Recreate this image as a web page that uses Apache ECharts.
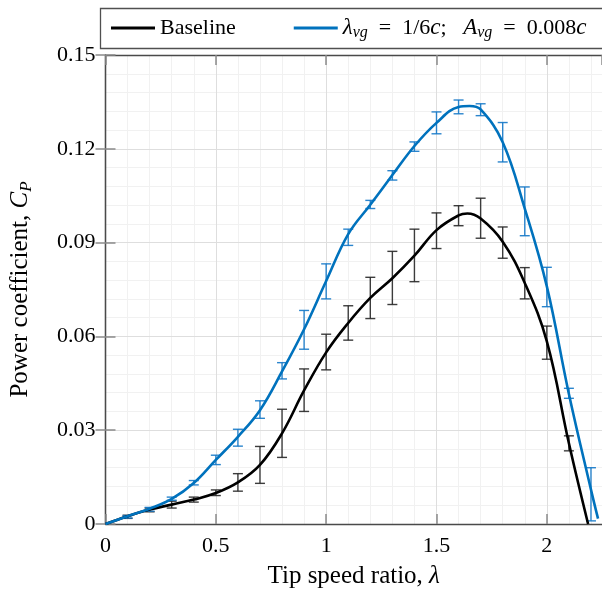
<!DOCTYPE html>
<html>
<head>
<meta charset="utf-8">
<script src="https://cdn.jsdelivr.net/npm/echarts@6/dist/echarts.min.js"></script>
<style>
  html, body { margin: 0; padding: 0; background: #fff; }
  #chart { width: 602px; height: 594px; }
</style>
</head>
<body>
<div id="chart"></div>
<script>
// Tip speed ratios at which the power coefficient was measured
const lambdaBaseline = [0.1, 0.2, 0.3, 0.4, 0.5, 0.6, 0.7, 0.8, 0.9, 1.0, 1.1,
                        1.2, 1.3, 1.4, 1.5, 1.6, 1.7, 1.8, 1.9, 2.0, 2.1];
const lambdaVG = [0.1, 0.2, 0.3, 0.4, 0.5, 0.6, 0.7, 0.8, 0.9, 1.0, 1.1,
                  1.2, 1.3, 1.4, 1.5, 1.6, 1.7, 1.8, 1.9, 2.0, 2.1, 2.2];

// Mean C_P and half-width of the error bar, baseline blades
const baselineMean = [0.0023, 0.0045, 0.0062, 0.0078, 0.0100, 0.0133, 0.0189, 0.0290,
                      0.0428, 0.0550, 0.0643, 0.0723, 0.0787, 0.0859, 0.0938, 0.0986,
                      0.0978, 0.0900, 0.0770, 0.0580, 0.0258];
const baselineErr = [0.0005, 0.0006, 0.0011, 0.0008, 0.0009, 0.0028, 0.0059, 0.0077,
                     0.0068, 0.0057, 0.0055, 0.0066, 0.0085, 0.0084, 0.0057, 0.0032,
                     0.0064, 0.0050, 0.0050, 0.0053, 0.0024];

// Mean C_P and half-width of the error bar, blades with vortex generators
const vgMean = [0.0023, 0.0047, 0.0081, 0.0132, 0.0205, 0.0276, 0.0366, 0.0490,
                0.0621, 0.0776, 0.0917, 0.1022, 0.1115, 0.1207, 0.1283, 0.1334,
                0.1325, 0.1221, 0.1000, 0.0758, 0.0418, 0.0095];
const vgErr = [0.0004, 0.0006, 0.0005, 0.0007, 0.0015, 0.0027, 0.0028, 0.0026,
               0.0062, 0.0056, 0.0026, 0.0013, 0.0015, 0.0015, 0.0035, 0.0022,
               0.0019, 0.0063, 0.0078, 0.0063, 0.0016, 0.0085];

// Fitted trend curves (from the origin to where C_P returns to zero)
const baselineCurveX = [0, 0.1, 0.2, 0.3, 0.4, 0.5, 0.6, 0.7, 0.8, 0.9, 1.0, 1.1, 1.2,
                        1.3, 1.4, 1.5, 1.6, 1.64, 1.7, 1.8, 1.9, 2.0, 2.1, 2.187];
const baselineCurveY = [0, 0.0025, 0.0046, 0.0062, 0.0078, 0.0099, 0.0133, 0.0189, 0.0290,
                        0.0427, 0.0549, 0.0643, 0.0723, 0.0786, 0.0858, 0.0940, 0.0987,
                        0.0993, 0.0977, 0.0903, 0.0771, 0.0584, 0.0258, 0];
const vgCurveX = [0, 0.1, 0.2, 0.3, 0.4, 0.5, 0.6, 0.7, 0.8, 0.9, 1.0, 1.1, 1.2,
                  1.3, 1.4, 1.5, 1.6, 1.65, 1.7, 1.8, 1.9, 2.0, 2.1, 2.2, 2.232];
const vgCurveY = [0, 0.0025, 0.0049, 0.0080, 0.0131, 0.0205, 0.0279, 0.0364, 0.0488,
                  0.0623, 0.0777, 0.0927, 0.1021, 0.1116, 0.1209, 0.1283, 0.1334,
                  0.1337, 0.1326, 0.1221, 0.1009, 0.0760, 0.0416, 0.0110, 0.0017];

// Axis ticks
const xTicks = [0, 0.5, 1, 1.5, 2];
const yTicks = [0, 0.03, 0.06, 0.09, 0.12, 0.15];

const FONT = '"Liberation Serif", "DejaVu Serif", serif';
const BLACK = '#000000';
const BLUE = '#0072BD';
const AXIS = '#4a4a4a';
const TICK = '#8a8a8a';

const xMin = xTicks[0], xMax = 2.25, xStep = xTicks[1] - xTicks[0];
const yMin = yTicks[0], yMax = yTicks[yTicks.length - 1], yStep = yTicks[1] - yTicks[0];

function pairs(xs, ys) {
  return xs.map((x, i) => [x, ys[i]]);
}
function barPoints(xs, ys, es) {
  return xs.map((x, i) => [x, ys[i] - es[i], ys[i] + es[i]]);
}
function errorBarRenderer(color) {
  return function (params, api) {
    const x = api.value(0);
    const lo = api.coord([x, api.value(1)]);
    const hi = api.coord([x, api.value(2)]);
    const cap = 5;
    const style = { stroke: color, lineWidth: 1.4, fill: null };
    return {
      type: 'group',
      children: [
        { type: 'line', shape: { x1: hi[0], y1: hi[1], x2: lo[0], y2: lo[1] }, style },
        { type: 'line', shape: { x1: hi[0] - cap, y1: hi[1], x2: hi[0] + cap, y2: hi[1] }, style },
        { type: 'line', shape: { x1: lo[0] - cap, y1: lo[1], x2: lo[0] + cap, y2: lo[1] }, style }
      ]
    };
  };
}

const richMath = {
  m: { fontFamily: FONT, fontStyle: 'italic', fontSize: 23, color: '#000', verticalAlign: 'middle', lineHeight: 26 },
  sub: { fontFamily: FONT, fontStyle: 'italic', fontSize: 16, color: '#000', verticalAlign: 'bottom', lineHeight: 16 },
  n: { fontFamily: FONT, fontSize: 22, color: '#000', verticalAlign: 'middle', lineHeight: 26 }
};

const chart = echarts.init(document.getElementById('chart'), null, { renderer: 'canvas' });

chart.setOption({
  animation: false,
  backgroundColor: '#ffffff',
  graphic: [{
    type: 'rect',
    shape: { x: 100.5, y: 8.5, width: 505, height: 40 },
    style: { fill: null, stroke: '#505050', lineWidth: 1.3 },
    z: 10
  }],
  legend: {
    left: 111,
    top: 15,
    padding: 0,
    itemGap: 58,
    itemWidth: 44,
    itemHeight: 3,
    icon: 'rect',
    data: ['Baseline', 'VG'],
    formatter: function (name) {
      if (name === 'Baseline') return '{n|Baseline}';
      return '{m|λ}{sub|vg}{n|\u2002=\u20021/6}{m|c}{n|;\u2002 }{m|A}{sub|vg}{n|\u2002=\u20020.008}{m|c}';
    },
    textStyle: { fontFamily: FONT, fontSize: 22, color: '#000', lineHeight: 26, rich: richMath }
  },
  grid: { left: 102, right: -1, top: 55, bottom: 66, containLabel: false },
  xAxis: [
    {
      // fine background grid every 0.1
      type: 'value', min: xMin, max: xMax, interval: xStep / 5, position: 'bottom', z: 0,
      axisLine: { show: false }, axisTick: { show: false }, axisLabel: { show: false },
      splitLine: { show: true, lineStyle: { color: '#f1f1f1', width: 1 } }
    },
    {
      type: 'value', min: xMin, max: xMax, interval: xStep, position: 'bottom', z: 1,
      name: 'Tip speed ratio, {m|λ}',
      nameLocation: 'middle',
      nameGap: 40,
      nameTextStyle: { fontFamily: FONT, fontSize: 25, color: '#000',
        rich: { m: { fontFamily: FONT, fontStyle: 'italic', fontSize: 25, color: '#000' } } },
      axisLine: { show: true, lineStyle: { color: AXIS, width: 1.3 } },
      axisTick: { show: true, inside: true, length: 10, lineStyle: { color: TICK, width: 1.5 } },
      axisLabel: { show: true, margin: 11, fontFamily: FONT, fontSize: 22, color: '#000',
        showMaxLabel: false, formatter: v => String(v) },
      splitLine: { show: true, lineStyle: { color: '#dedede', width: 1 } }
    },
    {
      type: 'value', min: xMin, max: xMax, interval: xStep, position: 'top', z: 1,
      axisLine: { show: true, lineStyle: { color: AXIS, width: 1.3 } },
      axisTick: { show: true, inside: true, length: 10, lineStyle: { color: TICK, width: 1.5 } },
      axisLabel: { show: false },
      splitLine: { show: false }
    }
  ],
  yAxis: [
    {
      type: 'value', min: yMin, max: yMax, interval: yStep, position: 'left', z: 1,
      name: 'Power coefficient, {m|C}{sub|P}',
      nameLocation: 'middle',
      nameGap: 70,
      nameRotate: 90,
      nameTextStyle: { fontFamily: FONT, fontSize: 25, color: '#000',
        rich: {
          m: { fontFamily: FONT, fontStyle: 'italic', fontSize: 25, color: '#000', verticalAlign: 'middle', lineHeight: 30 },
          sub: { fontFamily: FONT, fontStyle: 'italic', fontSize: 17, color: '#000', verticalAlign: 'bottom', lineHeight: 17 }
        } },
      axisLine: { show: true, lineStyle: { color: AXIS, width: 1.3 } },
      axisTick: { show: true, inside: true, length: 10, lineStyle: { color: TICK, width: 1.5 } },
      minorTick: { show: false, splitNumber: 5 },
      axisLabel: { show: true, margin: 10, fontFamily: FONT, fontSize: 22, color: '#000',
        formatter: v => (v === 0 ? '0' : v.toFixed(2)) },
      splitLine: { show: true, lineStyle: { color: '#dedede', width: 1 } },
      minorSplitLine: { show: true, lineStyle: { color: '#f1f1f1', width: 1 } }
    },
    {
      type: 'value', min: yMin, max: yMax, interval: yStep, position: 'right', z: 1,
      axisLine: { show: true, lineStyle: { color: AXIS, width: 1.3 } },
      axisTick: { show: true, inside: true, length: 10, lineStyle: { color: TICK, width: 1.5 } },
      axisLabel: { show: false },
      splitLine: { show: false }
    }
  ],
  series: [
    {
      name: 'Baseline bars', type: 'custom', xAxisIndex: 1, yAxisIndex: 0, z: 3,
      renderItem: errorBarRenderer('rgba(40,40,40,0.9)'),
      data: barPoints(lambdaBaseline, baselineMean, baselineErr),
      encode: { x: 0, y: [1, 2] }
    },
    {
      name: 'VG bars', type: 'custom', xAxisIndex: 1, yAxisIndex: 0, z: 3,
      renderItem: errorBarRenderer('rgba(20,120,200,0.9)'),
      data: barPoints(lambdaVG, vgMean, vgErr),
      encode: { x: 0, y: [1, 2] }
    },
    {
      name: 'Baseline', type: 'line', xAxisIndex: 1, yAxisIndex: 0, z: 4,
      smooth: 0.4, symbol: 'none', color: BLACK,
      lineStyle: { color: BLACK, width: 2.6 },
      data: pairs(baselineCurveX, baselineCurveY)
    },
    {
      name: 'VG', type: 'line', xAxisIndex: 1, yAxisIndex: 0, z: 4,
      smooth: 0.4, symbol: 'none', color: BLUE,
      lineStyle: { color: BLUE, width: 2.6 },
      data: pairs(vgCurveX, vgCurveY)
    }
  ]
});
</script>
</body>
</html>
